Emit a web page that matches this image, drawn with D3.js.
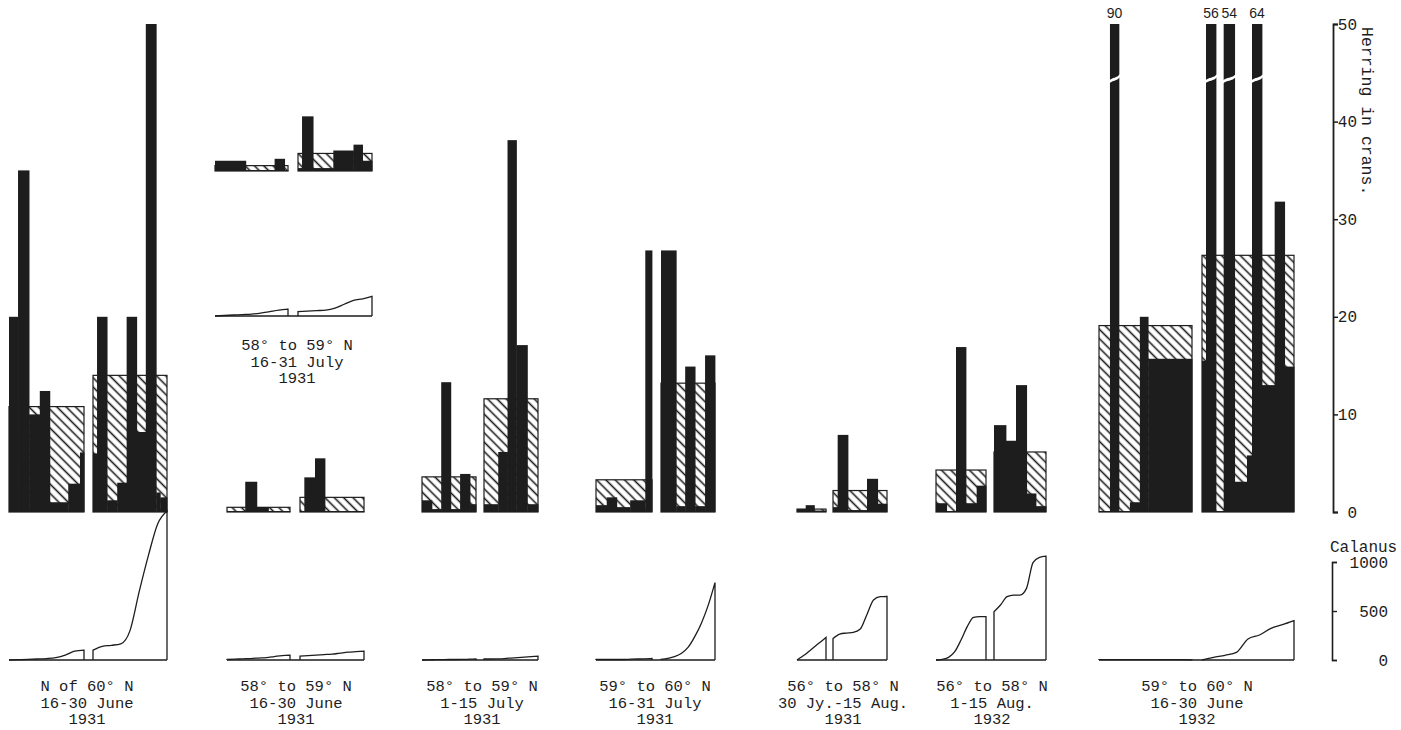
<!DOCTYPE html>
<html><head><meta charset="utf-8">
<script src="https://cdn.jsdelivr.net/npm/d3@7"></script>
<style>body{margin:0;background:#fff}svg{display:block}</style>
</head><body>
<svg id="chart" width="1401" height="730"></svg>
<script>
// ---- Data -------------------------------------------------------------
// Herring catch in crans: hatched = mean level of the half-period,
// black steps = [relative duration, catch] for each successive haul period.
// Calanus: counts read along each half-period at even intervals.

// N of 60° N, 16-30 June 1931
const p1aMean = 10.8, p1aCatch = [[27,20],[33,35],[32,10],[30,12.4],[55,1.0],[35,2.9],[12,6.1]];
const p1bMean = 14.0, p1bCatch = [[12,6],[30,20],[30,1.2],[28,3],[30,20],[27,8.2],[31,50],[12,2],[20,1.5]];
const p1aCal = [0,3,6,10,15,25,50,90,100];
const p1bCal = [100,140,150,165,300,700,1070,1390,1520];

// 58° to 59° N, 16-31 July 1931 (upper group)
const p2uaMean = 0.55, p2uaCatch = [[92,1.05],[86,0.1],[30,1.25],[10,0.1]];
const p2ubMean = 1.8, p2ubCatch = [[12,0.3],[33,5.6],[60,0.3],[60,2.1],[27,2.7],[28,1.05]];
const p2uaCal = [0,5,10,15,20,30,45,60,70];
const p2ubCal = [45,50,55,60,80,120,160,175,200];

// 58° to 59° N, 16-30 June 1931
const p2aMean = 0.48, p2aCatch = [[55,0.1],[35,3.1],[35,0.5],[65,0.1]];
const p2bMean = 1.5, p2bCatch = [[13,0.1],[32,3.55],[30,5.5],[117,0.1]];
const p2aCal = [5,8,12,15,20,25,35,45,50];
const p2bCal = [40,45,50,55,60,70,80,85,90];

// 58° to 59° N, 1-15 July 1931
const p3aMean = 3.6, p3aCatch = [[30,1.2],[28,0.3],[29,13.3],[28,0.3],[30,3.9],[18,0.8]];
const p3bMean = 11.6, p3bCatch = [[43,0.8],[28,6.15],[27,38.1],[33,17.1],[32,0.8]];
const p3aCal = [0,2,3,4,5,5,6,8,10];
const p3bCal = [10,10,12,15,20,25,30,35,40];

// 59° to 60° N, 16-31 July 1931
const p4aMean = 3.3, p4aCatch = [[32,0.7],[30,1.5],[40,0.5],[45,1.2],[20,26.8]];
const p4bMean = 13.2, p4bCatch = [[46,26.8],[27,0.6],[30,14.9],[30,0.6],[30,16.05]];
const p4aCal = [5,5,5,5,5,8,10,12,15];
const p4bCal = [7,17,34,66,128,238,378,560,790];

// 56° to 58° N, 30 Jy.-15 Aug. 1931
const p5aMean = 0.3, p5aCatch = [[9,0.3],[9,0.7],[12,0.15]];
const p5bMean = 2.2, p5bCatch = [[14,0.5],[31,7.9],[57,0.2],[32,3.4],[28,0.85]];
const p5aCal = [0,25,50,80,110,140,170,200,230];
const p5bCal = [220,265,275,282,313,460,612,646,650];

// 56° to 58° N, 1-15 Aug. 1932
const p6aMean = 4.3, p6aCatch = [[32,0.9],[28,0.1],[30,16.9],[32,0.9],[28,2.7]];
const p6bMean = 6.15, p6bCatch = [[36,8.9],[30,7.3],[32,13.0],[28,1.9],[30,0.6]];
const p6aCal = [0,7,27,85,204,340,435,442,442];
const p6bCal = [493,561,646,663,663,731,993,1047,1060];

// 59° to 60° N, 16-30 June 1932
const p7aMean = 19.1, p7aCatch = [[33,0.1],[27,90],[33,0.1],[30,1.0],[25,20.0],[132,15.7]];
const p7bMean = 26.3, p7bCatch = [[12,15.5],[30,56],[23,0.1],[33,54],[37,3.1],[15,5.8],[30,64],[38,13.0],[30,31.8],[28,14.9]];
const p7aCal = [3,3,3,3,3,3,3,3,2];
const p7bCal = [0,27,48,78,214,255,323,360,401];

const herringTicks = [0,10,20,30,40,50];
const calanusTicks = [0,500,1000];

const panelLabels = [
  ["N of 60° N","16-30 June","1931"],
  ["58° to 59° N","16-31 July","1931"],
  ["58° to 59° N","16-30 June","1931"],
  ["58° to 59° N","1-15 July","1931"],
  ["59° to 60° N","16-31 July","1931"],
  ["56° to 58° N","30 Jy.-15 Aug.","1931"],
  ["56° to 58° N","1-15 Aug.","1932"],
  ["59° to 60° N","16-30 June","1932"]
];

const panels = [
  {a:{mean:p1aMean, steps:p1aCatch, cal:p1aCal}, b:{mean:p1bMean, steps:p1bCatch, cal:p1bCal}},
  {a:{mean:p2uaMean, steps:p2uaCatch, cal:p2uaCal}, b:{mean:p2ubMean, steps:p2ubCatch, cal:p2ubCal}},
  {a:{mean:p2aMean, steps:p2aCatch, cal:p2aCal}, b:{mean:p2bMean, steps:p2bCatch, cal:p2bCal}},
  {a:{mean:p3aMean, steps:p3aCatch, cal:p3aCal}, b:{mean:p3bMean, steps:p3bCatch, cal:p3bCal}},
  {a:{mean:p4aMean, steps:p4aCatch, cal:p4aCal}, b:{mean:p4bMean, steps:p4bCatch, cal:p4bCal}},
  {a:{mean:p5aMean, steps:p5aCatch, cal:p5aCal}, b:{mean:p5bMean, steps:p5bCatch, cal:p5bCal}},
  {a:{mean:p6aMean, steps:p6aCatch, cal:p6aCal}, b:{mean:p6bMean, steps:p6bCatch, cal:p6bCal}},
  {a:{mean:p7aMean, steps:p7aCatch, cal:p7aCal}, b:{mean:p7bMean, steps:p7bCatch, cal:p7bCal}}
];

// ---- Layout -----------------------------------------------------------
const BASE = 512, CBASE = 660, UP = 341;      // main baselines and lift of upper group
const H50 = 488, C1000 = 98;                  // pixel height of 50 crans / 1000 Calanus
const LINE = 16.5;                            // label line spacing
const FS = 15.5;                              // typewriter text size
const layout = [
  {a:[9,84],    b:[93,167],   base:BASE,    cbase:CBASE,    ly:691, lx:87},
  {a:[215,288], b:[298,372],  base:BASE-UP, cbase:CBASE-UP-3, ly:350, lx:297},
  {a:[227,290], b:[300,364],  base:BASE,    cbase:CBASE,    ly:691, lx:296},
  {a:[422,476], b:[484,538],  base:BASE,    cbase:CBASE,    ly:691, lx:482},
  {a:[596,652], b:[661,715],  base:BASE,    cbase:CBASE,    ly:691, lx:655},
  {a:[797,826], b:[833,887],  base:BASE,    cbase:CBASE,    ly:691, lx:843},
  {a:[936,986], b:[994,1046], base:BASE,    cbase:CBASE,    ly:691, lx:992},
  {a:[1099,1192], b:[1202,1294], base:BASE, cbase:CBASE,    ly:691, lx:1197}
];

const ink = "#1d1d1d";
const mono = "'Liberation Mono','DejaVu Sans Mono',monospace";
const svg = d3.select("#chart");

// Diagonal hatching for the mean levels
const pat = svg.append("defs").append("pattern")
  .attr("id","hatch").attr("patternUnits","userSpaceOnUse")
  .attr("width",10).attr("height",6.6).attr("patternTransform","rotate(45)");
pat.append("rect").attr("width",10).attr("height",6.6).attr("fill","#fff");
pat.append("line").attr("x1",0).attr("x2",10).attr("y1",3.3).attr("y2",3.3)
  .attr("stroke",ink).attr("stroke-width",1.6);

const BREAK_AT = 44.5;

panels.forEach((p, i) => {
  const L = layout[i];
  const g = svg.append("g");
  const yH = d3.scaleLinear().domain([0,50]).range([L.base, L.base - H50]).clamp(true);
  const yC = d3.scaleLinear().domain([0,1000]).range([L.cbase, L.cbase - C1000]);

  ["a","b"].forEach(side => {
    const s = p[side], [x0, x1] = L[side];
    let acc = 0;
    const steps = s.steps.map(([d, v]) => { const o = {t0:acc, t1:acc + d, v}; acc += d; return o; });
    const x = d3.scaleLinear().domain([0, acc]).range([x0, x1]);

    // mean level, hatched
    g.append("rect")
      .attr("x", x(0)).attr("y", yH(s.mean))
      .attr("width", x(acc) - x(0)).attr("height", yH(0) - yH(s.mean))
      .attr("fill","url(#hatch)").attr("stroke",ink).attr("stroke-width",1.2);

    // catches, solid
    g.selectAll(null).data(steps).join("rect")
      .attr("x", d => x(d.t0)).attr("width", d => x(d.t1) - x(d.t0) + 0.4)
      .attr("y", d => yH(d.v)).attr("height", d => yH(0) - yH(d.v))
      .attr("fill", ink);

    // catches beyond the scale: broken bar with value on top
    const big = steps.filter(d => d.v > 50);
    big.forEach(d => {
      const xa = x(d.t0) - 1, xb = x(d.t1) + 1.4, yc = yH(BREAK_AT);
      g.append("path")
        .attr("d", `M${xa},${yc+3}C${xa+4},${yc-1} ${xb-4},${yc+1} ${xb},${yc-4}L${xb},${yc-1}C${xb-4},${yc+4} ${xa+4},${yc+2} ${xa},${yc+6}Z`)
        .attr("fill","#fff");
      g.append("text")
        .attr("x", (x(d.t0) + x(d.t1)) / 2).attr("y", yH(50) - 6)
        .attr("text-anchor","middle")
        .attr("font-family","'Liberation Sans',Arial,sans-serif").attr("font-size",14)
        .attr("fill", ink).text(d.v);
    });

    // Calanus outline
    const xc = d3.scaleLinear().domain([0, s.cal.length - 1]).range([x0, x1]);
    const line = d3.line().x((d, k) => xc(k)).y(d => yC(d)).curve(d3.curveMonotoneX);
    g.append("path")
      .attr("d", `M${x0},${yC(0)}L${x0},${yC(s.cal[0])}L` + line(s.cal).slice(1) + `L${x1},${yC(0)}`)
      .attr("fill","none").attr("stroke",ink).attr("stroke-width",1.3);
  });

  // Calanus baseline
  g.append("line")
    .attr("x1", L.a[0]).attr("x2", L.b[1]).attr("y1", yC(0)).attr("y2", yC(0))
    .attr("stroke", ink).attr("stroke-width",1.5);

  // period label
  g.append("text")
    .attr("font-family", mono).attr("font-size",FS).attr("fill",ink)
    .attr("text-anchor","middle")
    .selectAll("tspan").data(panelLabels[i]).join("tspan")
    .attr("x", L.lx).attr("y", (d, k) => L.ly + k * LINE).text(d => d);
});

// Herring axis
const yMain = d3.scaleLinear().domain([0,50]).range([BASE, BASE - H50]);
const ax = svg.append("g").attr("transform","translate(1333,0)")
  .call(d3.axisRight(yMain).tickValues(herringTicks).tickSize(5).tickSizeOuter(5).tickPadding(3));
ax.select(".domain").attr("stroke",ink).attr("stroke-width",1.8);
ax.selectAll(".tick line").attr("stroke",ink).attr("stroke-width",1.5);
ax.selectAll(".tick text").attr("font-family",mono).attr("font-size",16).attr("fill",ink)
  .attr("text-anchor","end").attr("x",24);
svg.append("text")
  .attr("transform","translate(1362,27) rotate(90)")
  .attr("font-family",mono).attr("font-size",16.5).attr("fill",ink)
  .text("Herring in crans.");

// Calanus axis
const yCal = d3.scaleLinear().domain([0,1000]).range([CBASE, CBASE - C1000]);
const cx = svg.append("g").attr("transform","translate(1332,0)")
  .call(d3.axisRight(yCal).tickValues(calanusTicks).tickFormat(d3.format("d"))
    .tickSize(5).tickSizeOuter(5).tickPadding(3));
cx.select(".domain").attr("stroke",ink).attr("stroke-width",1.6);
cx.selectAll(".tick line").attr("stroke",ink).attr("stroke-width",1.4);
cx.selectAll(".tick text").attr("font-family",mono).attr("font-size",16).attr("fill",ink)
  .attr("text-anchor","end").attr("x",56);
svg.append("text").attr("x",1330).attr("y",552)
  .attr("font-family",mono).attr("font-size",16).attr("fill",ink).text("Calanus");
</script>
</body></html>
